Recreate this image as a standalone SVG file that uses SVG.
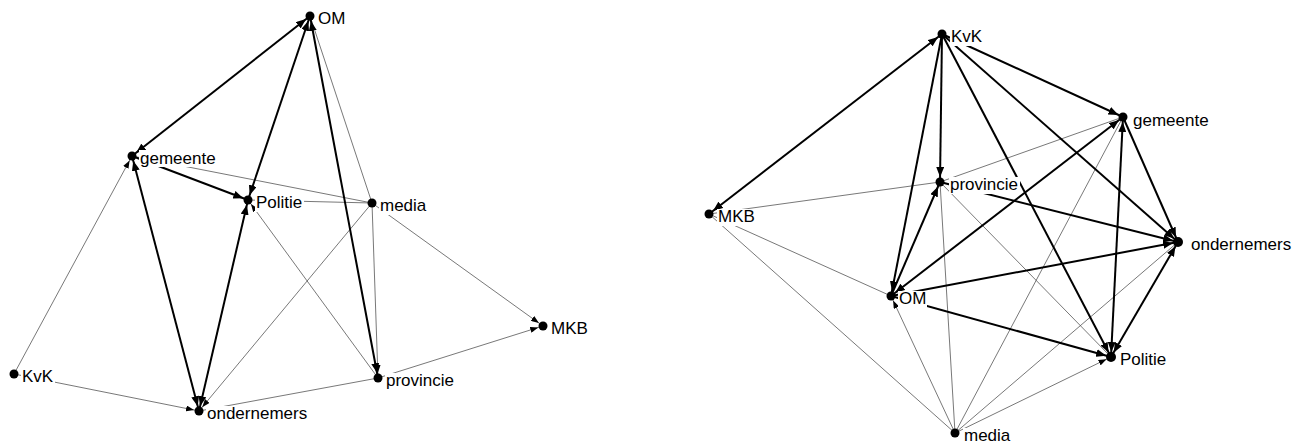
<svg xmlns="http://www.w3.org/2000/svg" width="1315" height="447" viewBox="0 0 1315 447">
<style>
.bg{fill:#fff}
.tk{stroke:#000;stroke-width:2;fill:none}
.tn{stroke:#555;stroke-width:0.8;fill:none}
.tk.e{marker-end:url(#ak)}
.tk.b{marker-end:url(#ak);marker-start:url(#ak)}
.tn.e{marker-end:url(#an)}
.dot{fill:#000}
.lb{fill:#fff}
text{font-family:"Liberation Sans",Arial,sans-serif;font-size:17px;fill:#000}
</style>
<defs>
<marker id="ak" markerUnits="userSpaceOnUse" viewBox="0 0 16 8" refX="15" refY="4" markerWidth="16" markerHeight="8" orient="auto-start-reverse"><path d="M0,0 L10,4 L0,8 z" fill="#000"/></marker>
<marker id="an" markerUnits="userSpaceOnUse" viewBox="0 0 14 6" refX="13" refY="3" markerWidth="14" markerHeight="6" orient="auto-start-reverse"><path d="M0,0 L8,3 L0,6 z" fill="#000"/></marker>
</defs>
<rect class="bg" x="0" y="0" width="1315" height="447"/>
<g id="connectors-left">
<line class="tn" x1="310" y1="16" x2="372" y2="203"/>
<line class="tn" x1="132" y1="156" x2="372" y2="203"/>
<line class="tn" x1="248" y1="200" x2="372" y2="203"/>
<line class="tn e" x1="378" y1="378" x2="248" y2="200"/>
<line class="tn e" x1="372" y1="203" x2="199" y2="411"/>
<line class="tn e" x1="372" y1="203" x2="378" y2="378"/>
<line class="tn e" x1="372" y1="203" x2="543" y2="326"/>
<line class="tn e" x1="378" y1="378" x2="543" y2="326"/>
<line class="tn" x1="199" y1="411" x2="378" y2="378"/>
<line class="tn e" x1="14" y1="374" x2="132" y2="156"/>
<line class="tn e" x1="14" y1="374" x2="199" y2="411"/>
<line class="tk b" x1="132" y1="156" x2="310" y2="16"/>
<line class="tk b" x1="310" y1="16" x2="248" y2="200"/>
<line class="tk b" x1="310" y1="16" x2="378" y2="378"/>
<line class="tk e" x1="132" y1="156" x2="248" y2="200"/>
<line class="tk b" x1="132" y1="156" x2="199" y2="411"/>
<line class="tk b" x1="248" y1="200" x2="199" y2="411"/>
</g>
<g id="connectors-right">
<line class="tn" x1="1123" y1="117" x2="940" y2="182"/>
<line class="tn" x1="1123" y1="117" x2="955" y2="433"/>
<line class="tn" x1="709" y1="214" x2="940" y2="182"/>
<line class="tn" x1="709" y1="214" x2="891" y2="296"/>
<line class="tn" x1="709" y1="214" x2="955" y2="433"/>
<line class="tn" x1="940" y1="182" x2="1111" y2="357"/>
<line class="tn" x1="940" y1="182" x2="955" y2="433"/>
<line class="tn e" x1="955" y1="433" x2="891" y2="296"/>
<line class="tn" x1="955" y1="433" x2="1178" y2="242"/>
<line class="tn e" x1="955" y1="433" x2="1111" y2="357"/>
<line class="tk b" x1="709" y1="214" x2="942" y2="34"/>
<line class="tk e" x1="942" y1="34" x2="940" y2="182"/>
<line class="tk e" x1="942" y1="34" x2="891" y2="296"/>
<line class="tk e" x1="942" y1="34" x2="1123" y2="117"/>
<line class="tk e" x1="942" y1="34" x2="1178" y2="242"/>
<line class="tk e" x1="942" y1="34" x2="1111" y2="357"/>
<line class="tk e" x1="891" y1="296" x2="940" y2="182"/>
<line class="tk b" x1="891" y1="296" x2="1123" y2="117"/>
<line class="tk e" x1="891" y1="296" x2="1178" y2="242"/>
<line class="tk e" x1="891" y1="296" x2="1111" y2="357"/>
<line class="tk e" x1="940" y1="182" x2="1178" y2="242"/>
<line class="tk e" x1="1123" y1="117" x2="1178" y2="242"/>
<line class="tk b" x1="1123" y1="117" x2="1111" y2="357"/>
<line class="tk b" x1="1111" y1="357" x2="1178" y2="242"/>
</g>
<g id="L-OM"><rect class="lb" x="317" y="10" width="29" height="17"/><circle class="dot" cx="310" cy="16" r="4.5"/><text x="318" y="24">OM</text></g>
<g id="L-gemeente"><rect class="lb" x="139" y="150" width="78" height="17"/><circle class="dot" cx="132" cy="156" r="4.5"/><text x="140" y="164">gemeente</text></g>
<g id="L-Politie"><rect class="lb" x="255" y="195" width="49" height="17"/><circle class="dot" cx="248" cy="200" r="4.5"/><text x="256" y="208">Politie</text></g>
<g id="L-media"><rect class="lb" x="379" y="198" width="49" height="17"/><circle class="dot" cx="372" cy="203" r="4.5"/><text x="380" y="211">media</text></g>
<g id="L-KvK"><rect class="lb" x="21" y="369" width="34" height="17"/><circle class="dot" cx="14" cy="374" r="4.5"/><text x="22" y="382">KvK</text></g>
<g id="L-ondernemers"><rect class="lb" x="206" y="406" width="104" height="17"/><circle class="dot" cx="199" cy="411" r="4.5"/><text x="207" y="419">ondernemers</text></g>
<g id="L-provincie"><rect class="lb" x="385" y="373" width="71" height="17"/><circle class="dot" cx="378" cy="378" r="4.5"/><text x="386" y="386">provincie</text></g>
<g id="L-MKB"><rect class="lb" x="550" y="321" width="39" height="17"/><circle class="dot" cx="543" cy="326" r="4.5"/><text x="551" y="334">MKB</text></g>
<g id="R-KvK"><rect class="lb" x="950" y="29" width="34" height="17"/><circle class="dot" cx="942" cy="34" r="4.5"/><text x="951" y="42">KvK</text></g>
<g id="R-gemeente"><rect class="lb" x="1132" y="112" width="78" height="17"/><circle class="dot" cx="1123" cy="117" r="4.5"/><text x="1133" y="126">gemeente</text></g>
<g id="R-provincie"><rect class="lb" x="949" y="177" width="71" height="17"/><circle class="dot" cx="940" cy="182" r="4.5"/><text x="950" y="190">provincie</text></g>
<g id="R-MKB"><rect class="lb" x="717" y="209" width="39" height="17"/><circle class="dot" cx="709" cy="214" r="4.5"/><text x="718" y="222">MKB</text></g>
<g id="R-OM"><rect class="lb" x="898" y="291" width="29" height="17"/><circle class="dot" cx="891" cy="296" r="4.5"/><text x="899" y="304">OM</text></g>
<g id="R-ondernemers"><rect class="lb" x="1190" y="237" width="104" height="17"/><circle class="dot" cx="1178" cy="242" r="5"/><text x="1191" y="250">ondernemers</text></g>
<g id="R-Politie"><rect class="lb" x="1119" y="352" width="49" height="17"/><circle class="dot" cx="1111" cy="357" r="5"/><text x="1120" y="365">Politie</text></g>
<g id="R-media"><rect class="lb" x="963" y="428" width="49" height="17"/><circle class="dot" cx="955" cy="433" r="4.5"/><text x="964" y="441">media</text></g>
</svg>
